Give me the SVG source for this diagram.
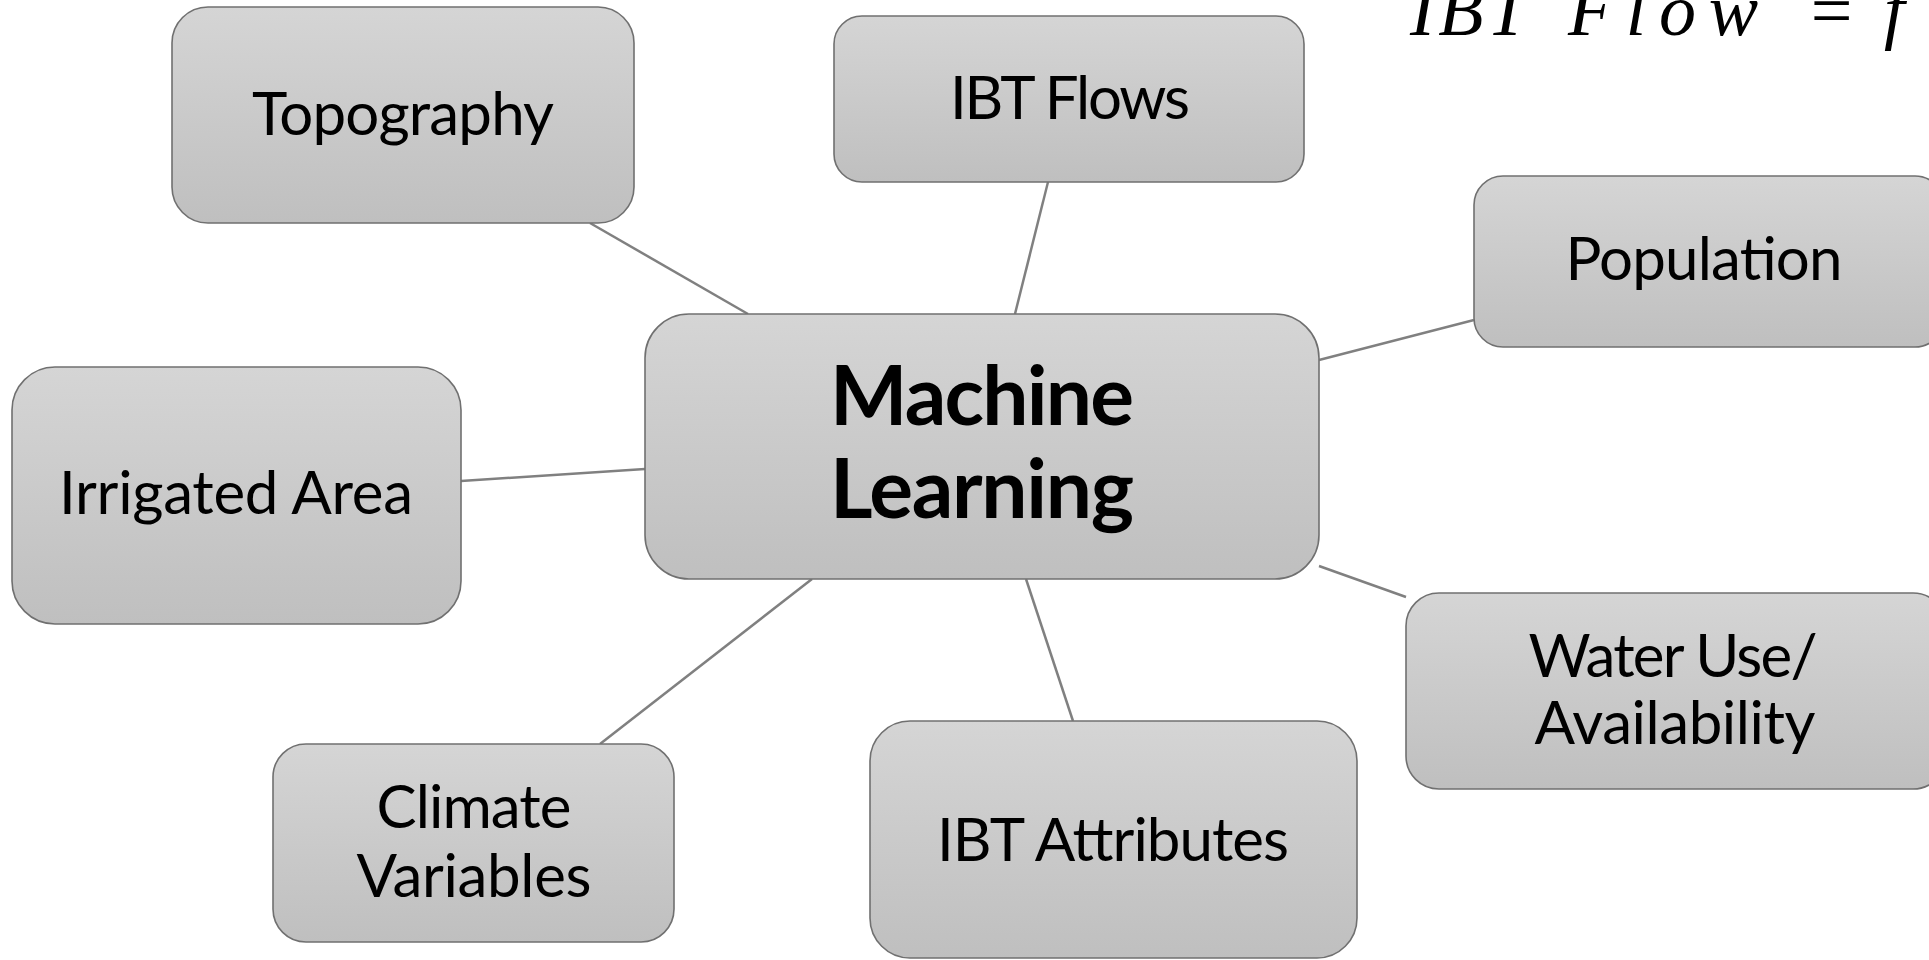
<svg xmlns="http://www.w3.org/2000/svg" width="1929" height="960" viewBox="0 0 1929 960">
<defs>
<linearGradient id="g" x1="0" y1="0" x2="0" y2="1">
<stop offset="0" stop-color="#d5d5d5"/>
<stop offset="1" stop-color="#bfbfbf"/>
</linearGradient>
<style>
.box{fill:url(#g);stroke:#707070;stroke-width:1.6}
.t{font-family:Lato,"Liberation Sans",sans-serif;font-size:60px;fill:#000;text-anchor:middle}
.b{font-family:Lato,"Liberation Sans",sans-serif;font-size:82px;font-weight:bold;fill:#000;text-anchor:middle}
.m{font-family:"Liberation Serif",serif;font-style:italic;font-size:74px;fill:#000}
.c{stroke:#808080;stroke-width:2.5;fill:none}
</style>
</defs>
<rect width="1929" height="960" fill="#fff"/>
<g id="connectors">
<line class="c" x1="590" y1="223" x2="748" y2="314"/>
<line class="c" x1="1048" y1="182" x2="1015" y2="314"/>
<line class="c" x1="1474" y1="320" x2="1319" y2="360"/>
<line class="c" x1="461" y1="481" x2="645" y2="469"/>
<line class="c" x1="1406" y1="597" x2="1319" y2="566"/>
<line class="c" x1="600" y1="744" x2="812" y2="579"/>
<line class="c" x1="1073" y1="721" x2="1026" y2="579"/>
</g>
<g id="formula">
<text class="m" x="1410" y="35" textLength="118">IBT</text>
<text class="m" x="1568" y="35" textLength="190">Flow</text>
<text class="m" x="1806" y="35" font-style="normal" font-size="80">=</text>
<text class="m" x="1884" y="35">f</text>
</g>
<g id="topography">
<rect class="box" x="172" y="7" width="462" height="216" rx="36"/>
<text class="t" x="403" y="135" textLength="302">Topography</text>
</g>
<g id="ibt-flows">
<rect class="box" x="834" y="16" width="470" height="166" rx="28"/>
<text class="t" x="1070" y="119" textLength="240">IBT Flows</text>
</g>
<g id="population">
<rect class="box" x="1474" y="176" width="470" height="171" rx="29"/>
<text class="t" x="1704" y="280" textLength="277">Population</text>
</g>
<g id="machine-learning">
<rect class="box" x="645" y="314" width="674" height="265" rx="44"/>
<text class="b" x="982" y="425" textLength="304">Machine</text>
<text class="b" x="982" y="518" textLength="304">Learning</text>
</g>
<g id="irrigated-area">
<rect class="box" x="12" y="367" width="449" height="257" rx="43"/>
<text class="t" x="236" y="514" textLength="354">Irrigated Area</text>
</g>
<g id="water-use">
<rect class="box" x="1406" y="593" width="540" height="196" rx="33"/>
<text class="t" x="1673" y="677" textLength="289">Water Use/</text>
<text class="t" x="1675" y="744" textLength="281">Availability</text>
</g>
<g id="climate-variables">
<rect class="box" x="273" y="744" width="401" height="198" rx="33"/>
<text class="t" x="474" y="828" textLength="195">Climate</text>
<text class="t" x="474" y="897" textLength="235">Variables</text>
</g>
<g id="ibt-attributes">
<rect class="box" x="870" y="721" width="487" height="237" rx="40"/>
<text class="t" x="1113" y="861" textLength="352">IBT Attributes</text>
</g>
</svg>
